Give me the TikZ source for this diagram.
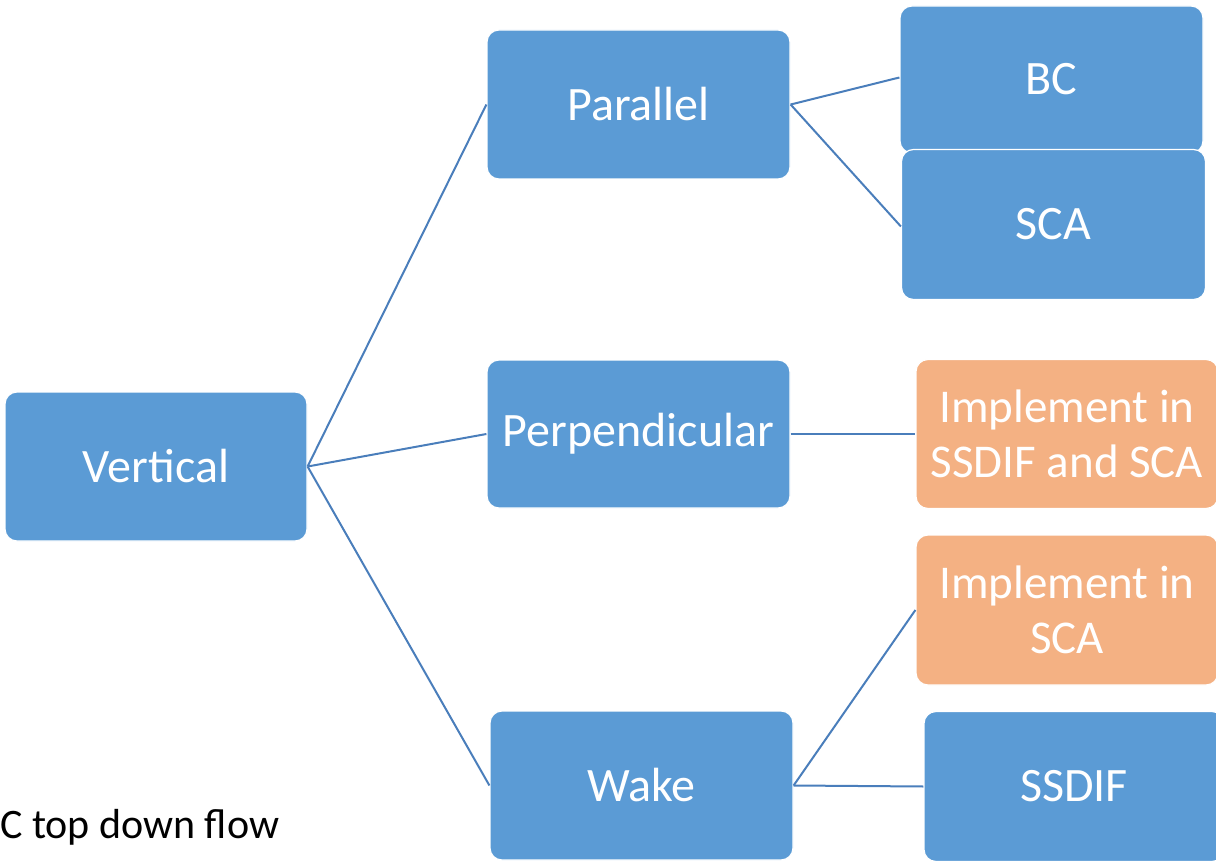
\documentclass[tikz,border=0pt]{standalone}
\usepackage{fontspec}
\setmainfont{Carlito}
\definecolor{boxblue}{HTML}{5B9BD5}
\definecolor{boxorange}{HTML}{F4B183}
\definecolor{linkblue}{HTML}{4A7EBB}
\begin{document}
\begin{tikzpicture}[x=1pt,y=-1pt,
  box/.style={rectangle, rounded corners=12pt, fill=boxblue, draw=white, line width=1.2pt,
    text=white, align=center, font=\fontsize{48}{58}\selectfont, inner sep=0pt},
  obox/.style={box, fill=boxorange, font=\fontsize{47}{55}\selectfont},
  link/.style={draw=linkblue, line width=2pt}]
\useasboundingbox (0,0) rectangle (1216,861);
\clip (0,0) rectangle (1216,861);
\node[box, minimum width=302pt, minimum height=149pt] (vert) at (156,466.5) {Vertical};
\node[box, minimum width=303pt, minimum height=149pt] (par) at (638.5,104.5) {Parallel};
\node[box, minimum width=303pt, minimum height=148pt] (perp) at (638.5,434) {Perpendicular};
\node[box, minimum width=303pt, minimum height=149pt] (wake) at (641.5,785.5) {Wake};
\node[box, minimum width=303pt, minimum height=147pt] (bc) at (1051.5,79.5) {BC};
\node[box, minimum width=304pt, minimum height=150pt] (sca) at (1053.5,224.5) {SCA};
\node[obox, minimum width=302pt, minimum height=149pt] (imp1) at (1067,434) {Implement in\\SSDIF and SCA};
\node[obox, minimum width=302pt, minimum height=150pt] (imp2) at (1067,610) {Implement in\\SCA};
\node[box, minimum width=300pt, minimum height=150pt] (ssdif) at (1074,786.5) {SSDIF};
\node[anchor=base west, inner sep=0pt, font=\fontsize{42}{50}\selectfont, text=black] (note) at (0,838) {C top down flow};
\draw[link] (vert.east) -- (par.west);
\draw[link] (vert.east) -- (perp.west);
\draw[link] (vert.east) -- (wake.west);
\draw[link] (par.east) -- ([yshift=2pt]bc.west);
\draw[link] (par.east) -- ([yshift=-2pt]sca.west);
\draw[link] (perp.east) -- (imp1.west);
\draw[link] (wake.east) -- (imp2.west);
\draw[link] (wake.east) -- (ssdif.west);
\end{tikzpicture}
\end{document}
